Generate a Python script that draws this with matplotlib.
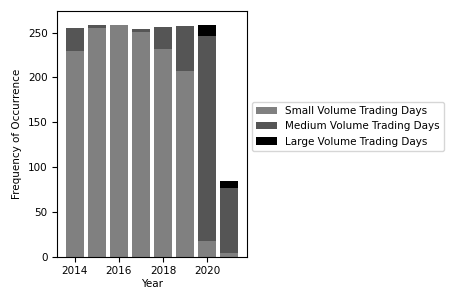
import numpy as np
import matplotlib.pyplot as plt

years = [2014, 2015, 2016, 2017, 2018, 2019, 2020, 2021]
small = [229, 255, 258, 251, 232, 207, 17, 4]
medium = [26, 3, 1, 3, 24, 50, 229, 73]
large = [0, 0, 0, 0, 0, 0, 12, 7]

small = np.array(small)
medium = np.array(medium)
large = np.array(large)

fig = plt.figure(figsize=(4.54, 2.92), dpi=100)
ax = fig.add_axes([0.1262, 0.1209, 0.4172, 0.8425])

ax.bar(years, small, color='#808080', label='Small Volume Trading Days')
ax.bar(years, medium, bottom=small, color='#555555', label='Medium Volume Trading Days')
ax.bar(years, large, bottom=small + medium, color='black', label='Large Volume Trading Days')

ax.set_ylim(0, 274.5)
ax.set_xlabel('Year', fontsize=7.5, labelpad=2)
ax.set_ylabel('Frequency of Occurrence', fontsize=7.5)
ax.set_xticks([2014, 2016, 2018, 2020])
ax.tick_params(labelsize=7.5)
ax.legend(loc='center left', bbox_to_anchor=(1.0, 0.53), fontsize=7.5)

fig.savefig('out.png', dpi=100)
